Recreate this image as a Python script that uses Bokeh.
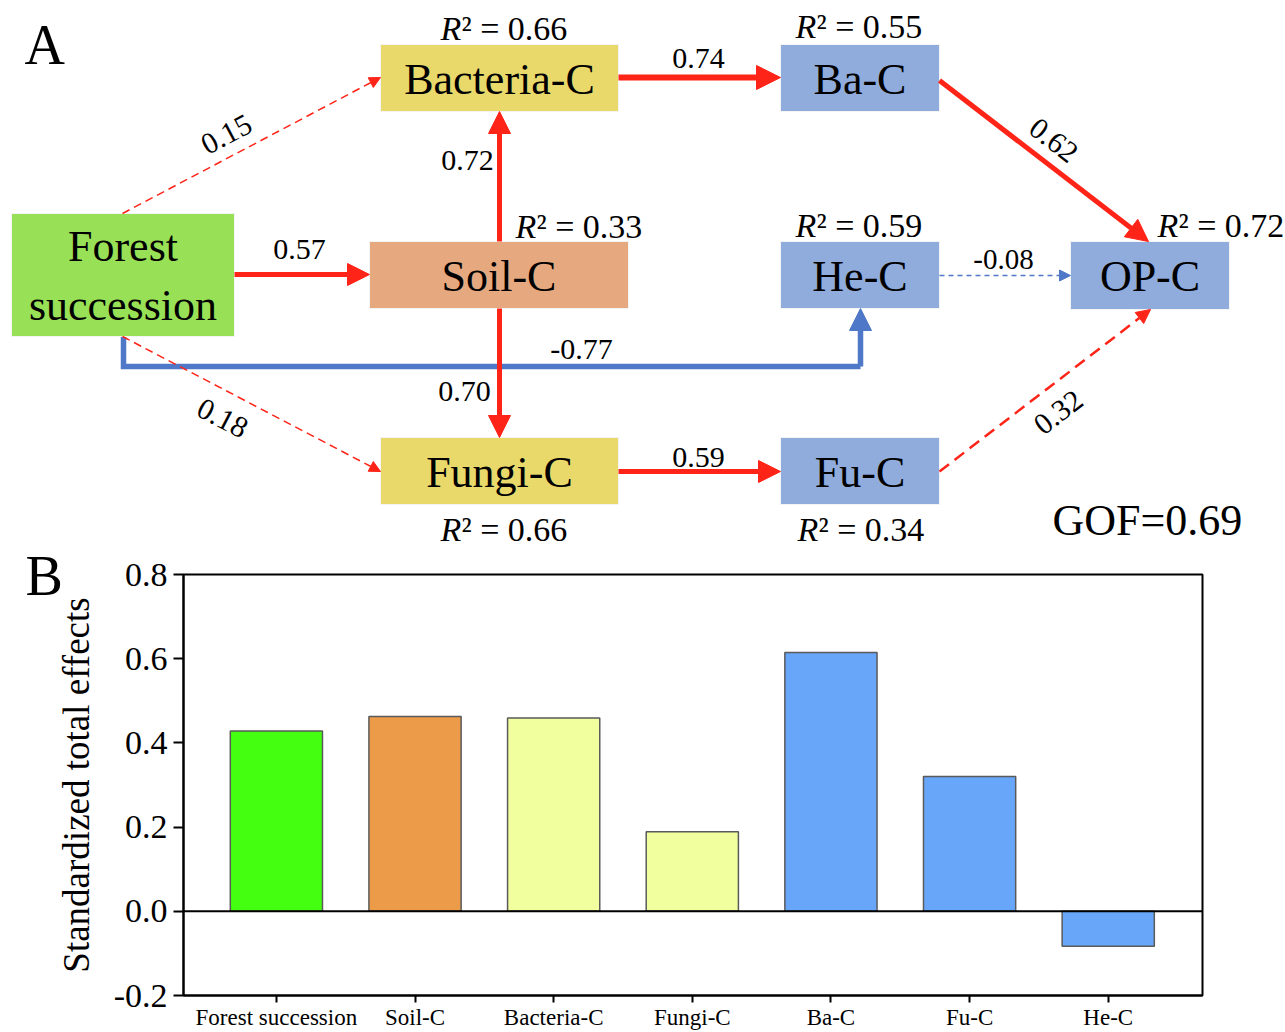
from bokeh.plotting import figure
from bokeh.models import Range1d, Arrow, NormalHead, ColumnDataSource, FixedTicker, Span
from bokeh.core.properties import value
from bokeh.embed import file_html
from bokeh.resources import INLINE
import math

FONT = "Liberation Serif"

# ------------------------------------------------------------------ data
node_names = ["Forest succession", "Bacteria-C", "Soil-C", "Fungi-C", "Ba-C", "He-C", "OP-C", "Fu-C"]
r2_nodes = ["Bacteria-C", "Ba-C", "Soil-C", "He-C", "OP-C", "Fungi-C", "Fu-C"]
r2_values = [0.66, 0.55, 0.33, 0.59, 0.72, 0.66, 0.34]
path_from = ["Forest succession", "Forest succession", "Soil-C", "Soil-C", "Bacteria-C",
             "Fungi-C", "Ba-C", "He-C", "Fu-C", "Forest succession", "Forest succession"]
path_to = ["Soil-C", "Bacteria-C", "Bacteria-C", "Fungi-C", "Ba-C",
           "Fu-C", "OP-C", "OP-C", "OP-C", "Fungi-C", "He-C"]
path_coef = [0.57, 0.15, 0.72, 0.70, 0.74, 0.59, 0.62, -0.08, 0.32, 0.18, -0.77]
gof_value = 0.69

categories = ["Forest succession", "Soil-C", "Bacteria-C", "Fungi-C", "Ba-C", "Fu-C", "He-C"]
total_effects = [0.428, 0.463, 0.459, 0.189, 0.615, 0.320, -0.083]
y_ticks = [-0.2, 0.0, 0.2, 0.4, 0.6, 0.8]
y_tick_labels = ["-0.2", "0.0", "0.2", "0.4", "0.6", "0.8"]

# ------------------------------------------------------------------ layout / styles
RED = "#FF2418"
BLUE_LINE = "#4F78C8"
W = 1285
TOP_H = 640
BOT_H = 482
OVERLAP = 90

node_box = {  # left, right, top, bottom (page pixels)
    "Forest succession": (11, 234, 213, 336),
    "Bacteria-C": (380, 618, 44, 111),
    "Soil-C": (369, 628, 241, 308),
    "Fungi-C": (380, 618, 437, 504),
    "Ba-C": (780, 939, 44, 111),
    "He-C": (780, 939, 241, 308),
    "OP-C": (1070, 1229, 241, 309),
    "Fu-C": (780, 939, 437, 504),
}
node_fill = {
    "Forest succession": "#98E156",
    "Bacteria-C": "#E9D96B",
    "Soil-C": "#E6A97F",
    "Fungi-C": "#E9D96B",
    "Ba-C": "#8FACDD",
    "He-C": "#8FACDD",
    "OP-C": "#8FACDD",
    "Fu-C": "#8FACDD",
}
node_display = {"Forest succession": "Forest\nsuccession"}

r2_pos = {  # left x, vertical centre y
    "Bacteria-C": (440, 28), "Ba-C": (795, 26), "Soil-C": (515, 226),
    "He-C": (795, 225), "OP-C": (1157, 225), "Fungi-C": (440, 529), "Fu-C": (797, 529),
}

# per path: start, end, colour, width, dash, head size, label centre, label angle(deg), label size
edge_style = [
    ((234, 274), (369, 274), RED, 5, "solid", 22, (299, 249), 0, 30),
    ((122, 213), (380, 77), RED, 1.5, "8 5", 11, (226, 134), 27.8, 30),
    ((499, 241), (499, 111), RED, 5, "solid", 22, (467, 160), 0, 30),
    ((499, 308), (499, 437), RED, 5, "solid", 22, (464, 391), 0, 30),
    ((618, 77), (780, 77), RED, 6, "solid", 24, (698, 58), 0, 30),
    ((618, 471), (780, 471), RED, 5, "solid", 22, (698, 457), 0, 30),
    ((939, 80), (1148, 241), RED, 5, "solid", 22, (1053, 140), -37.6, 30),
    ((939, 275), (1070, 275), BLUE_LINE, 1.3, "5 4", 11, (1003, 259), 0, 29),
    ((939, 471), (1150, 309), RED, 2.5, "12 7", 14, (1058, 412), 37.5, 30),
    ((122, 336), (380, 471), RED, 1.5, "8 5", 11, (222, 418), -27.6, 30),
    ((860, 366), (860, 308), BLUE_LINE, 5.5, "solid", 22, (581, 349), 0, 30),
]
elbow_x = [123, 123, 860]
elbow_y = [336, 366, 366]

# ------------------------------------------------------------------ panel A
top = figure(width=W, height=TOP_H, x_range=Range1d(0, W), y_range=Range1d(TOP_H, 0),
             x_axis_type=None, y_axis_type=None, output_backend="svg", toolbar_location=None,
             min_border=0, outline_line_color=None)
top.grid.visible = False
top.border_fill_alpha = 0
top.background_fill_alpha = 0
top.styles = {"position": "relative", "z-index": "2"}

top.line(elbow_x, elbow_y, line_color=BLUE_LINE, line_width=5.5, line_join="miter")
for (s, e, col, lw, dash, hs, lpos, ang, fs) in edge_style:
    top.add_layout(Arrow(x_start=s[0], y_start=s[1], x_end=e[0], y_end=e[1],
                         line_color=col, line_width=lw, line_dash=dash,
                         end=NormalHead(size=hs, fill_color=col, line_color=col, line_width=1)))

box_src = ColumnDataSource(dict(
    left=[node_box[n][0] for n in node_names],
    right=[node_box[n][1] for n in node_names],
    top=[node_box[n][2] for n in node_names],
    bottom=[node_box[n][3] for n in node_names],
    color=[node_fill[n] for n in node_names],
    x=[(node_box[n][0] + node_box[n][1]) / 2 for n in node_names],
    y=[(node_box[n][2] + node_box[n][3]) / 2 + 1 for n in node_names],
    label=[node_display.get(n, n) for n in node_names],
))
top.quad(left="left", right="right", top="top", bottom="bottom", source=box_src,
         fill_color="color", line_color="#F4F4F4", line_width=1)
top.text(x="x", y="y", text="label", source=box_src, text_font=value(FONT),
         text_font_size="44px", text_align="center", text_baseline="middle",
         text_color="black", text_line_height=1.2)

coef_src = ColumnDataSource(dict(
    x=[e[6][0] for e in edge_style], y=[e[6][1] for e in edge_style],
    text=[f"{c:.2f}" for c in path_coef],
    angle=[math.radians(e[7]) for e in edge_style],
    size=[f"{e[8]}px" for e in edge_style],
))
top.text(x="x", y="y", text="text", angle="angle", source=coef_src, text_font=value(FONT),
         text_font_size="size", text_align="center", text_baseline="middle", text_color="black")

R_W = 21
r2_src = ColumnDataSource(dict(
    x=[r2_pos[n][0] for n in r2_nodes], y=[r2_pos[n][1] for n in r2_nodes],
    x2=[r2_pos[n][0] + R_W for n in r2_nodes],
    rest=[f"\u00b2 = {v:.2f}" for v in r2_values],
))
top.text(x="x", y="y", text=value("R"), source=r2_src, text_font=value(FONT),
         text_font_style="italic", text_font_size="34px", text_align="left",
         text_baseline="middle", text_color="black")
top.text(x="x2", y="y", text="rest", source=r2_src, text_font=value(FONT),
         text_font_size="34px", text_align="left", text_baseline="middle", text_color="black")

top.text(x=[1052], y=[520], text=[f"GOF={gof_value:.2f}"], text_font=value(FONT),
         text_font_size="44px", text_baseline="middle", text_color="black")
top.text(x=[24, 25], y=[44, 575], text=["A", "B"], text_font=value(FONT),
         text_font_size="56px", text_baseline="middle", text_color="black")

# ------------------------------------------------------------------ panel B
bar_colors = ["#44FF0F", "#EC9B48", "#F2FF9F", "#F2FF9F", "#68A6FA", "#68A6FA", "#68A6FA"]
bot = figure(width=W, height=BOT_H, x_range=Range1d(-0.67, 6.68), y_range=Range1d(-0.2, 0.8),
             output_backend="svg", toolbar_location=None,
             min_border_left=183, min_border_right=83, min_border_top=24, min_border_bottom=0)
bot.margin = (-OVERLAP, 0, 0, 0)
bot.border_fill_alpha = 0
bot.styles = {"position": "relative", "z-index": "1"}
bot.grid.visible = False
bot.outline_line_color = "black"
bot.outline_line_width = 2
bot.outline_line_alpha = 1

bar_src = ColumnDataSource(dict(x=list(range(len(categories))), top=total_effects, color=bar_colors))
bot.vbar(x="x", top="top", bottom=0, width=0.665, source=bar_src, fill_color="color",
         line_color="#5A5A5A", line_width=1.5)
bot.add_layout(Span(location=0, dimension="width", line_color="black", line_width=2))

ya = bot.yaxis[0]
ya.ticker = FixedTicker(ticks=y_ticks)
ya.major_label_overrides = {t: l for t, l in zip(y_ticks, y_tick_labels)}
ya.major_label_text_font = FONT
ya.major_label_text_font_size = "34px"
ya.major_label_text_color = "black"
ya.major_tick_out = 10
ya.major_tick_in = 0
ya.minor_tick_out = 0
ya.minor_tick_in = 0
ya.major_tick_line_width = 2
ya.axis_line_width = 2
ya.major_label_standoff = 6
ya.axis_label = "Standardized total effects"
ya.axis_label_text_font = FONT
ya.axis_label_text_font_size = "37px"
ya.axis_label_text_font_style = "normal"
ya.axis_label_text_color = "black"
ya.axis_label_standoff = 14

xa = bot.xaxis[0]
xa.ticker = FixedTicker(ticks=list(range(len(categories))))
xa.major_label_overrides = {i: c for i, c in enumerate(categories)}
xa.major_label_text_font = FONT
xa.major_label_text_font_size = "23px"
xa.major_label_text_color = "black"
xa.major_tick_out = 7
xa.major_tick_in = 0
xa.minor_tick_out = 0
xa.minor_tick_in = 0
xa.major_tick_line_width = 2
xa.axis_line_width = 2
xa.major_label_standoff = 2

open("out.html", "w").write(file_html([top, bot], INLINE))
